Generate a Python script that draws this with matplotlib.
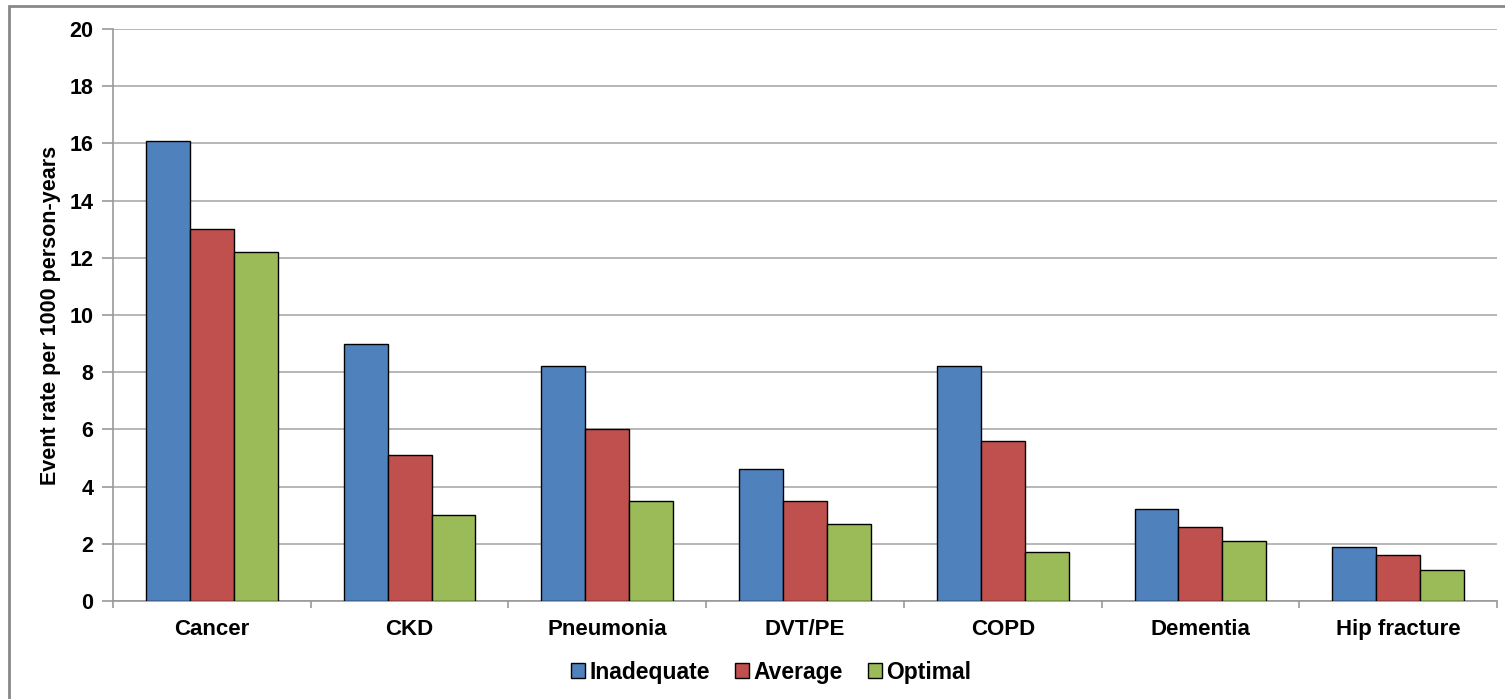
import matplotlib
matplotlib.use("Agg")
import matplotlib.pyplot as plt
from matplotlib.patches import Rectangle
from matplotlib.ticker import FixedLocator
import numpy as np

plt.rcParams['font.family'] = ['Liberation Sans', 'DejaVu Sans']

categories = ["Cancer", "CKD", "Pneumonia", "DVT/PE", "COPD", "Dementia", "Hip fracture"]
inadequate = [16.1, 9.0, 8.2, 4.6, 8.2, 3.2, 1.9]
average = [13.0, 5.1, 6.0, 3.5, 5.6, 2.6, 1.6]
optimal = [12.2, 3.0, 3.5, 2.7, 1.7, 2.1, 1.1]
series_names = ["Inadequate", "Average", "Optimal"]
colors = ["#4F81BD", "#C0504D", "#9BBB59"]
y_ticks = [0, 2, 4, 6, 8, 10, 12, 14, 16, 18, 20]

W, H = 1505, 699
fig = plt.figure(figsize=(W / 100, H / 100), dpi=100)
ax = fig.add_axes([113 / W, (H - 601) / H, (1497 - 113) / W, (601 - 29) / H])

x = np.arange(len(categories))
bw = 0.222
for i, (vals, name, c) in enumerate(zip([inadequate, average, optimal], series_names, colors)):
    ax.bar(x + (i - 1) * bw, vals, width=bw, color=c, edgecolor="black",
           linewidth=1.0, label=name, zorder=3)

ax.set_xlim(-0.5, len(categories) - 0.5)
ax.set_ylim(0, 20)
ax.set_yticks(y_ticks)
ax.set_yticklabels([str(t) for t in y_ticks], fontsize=15.5, fontweight="bold")
ax.set_xticks(x)
ax.set_xticklabels(categories, fontsize=16, fontweight="bold")
ax.xaxis.set_minor_locator(FixedLocator(np.arange(-0.5, len(categories), 1.0)))
ax.tick_params(axis="x", which="major", length=0, pad=13)
ax.tick_params(axis="x", which="minor", length=5, color="#999999", width=1.2)
ax.tick_params(axis="y", length=8, color="#999999", width=1.2, pad=6)

ax.grid(axis="y", color="#AAAAAA", linewidth=1.2, zorder=0)
for s in ["top", "right"]:
    ax.spines[s].set_visible(False)
for s in ["left", "bottom"]:
    ax.spines[s].set_color("#999999")
    ax.spines[s].set_linewidth(1.2)

ax.set_ylabel("Event rate per 1000 person-years", fontsize=15.5, fontweight="bold", labelpad=6)

leg = fig.legend(loc="center", bbox_to_anchor=(771 / W, (H - 672) / H), ncol=3, frameon=False,
                 prop={"size": 16.5, "weight": "bold"}, handlelength=0.6, handleheight=0.6,
                 handletextpad=0.2, columnspacing=1.1)

frame = Rectangle((9 / W, -0.1), 1.2, (H - 6) / H + 0.1, transform=fig.transFigure,
                  fill=False, edgecolor="#888888", linewidth=2)
fig.patches.append(frame)

fig.savefig("out.png", dpi=100)
